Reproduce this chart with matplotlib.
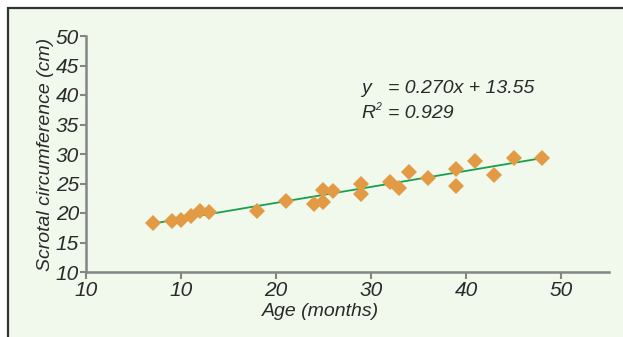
import matplotlib
matplotlib.use("Agg")
import matplotlib.pyplot as plt
from matplotlib.patches import Rectangle

# Data
age = [7, 9, 10, 11, 12, 13, 18, 21, 24, 25, 25, 26, 29, 29,
       32, 33, 34, 36, 39, 39, 41, 43, 45, 48]
circ = [18.3, 18.6, 18.8, 19.5, 20.4, 20.1, 20.3, 22.1, 21.6, 23.9, 21.9, 23.8, 24.9, 23.2,
        25.3, 24.3, 27.0, 26.0, 27.5, 24.6, 28.8, 26.5, 29.4, 29.4]
trend_x = [7, 48]
trend_y = [18.2, 29.3]
xtick_pos = [0, 10, 20, 30, 40, 50]
xtick_labels = ["10", "10", "20", "30", "40", "50"]
ytick_pos = [10, 15, 20, 25, 30, 35, 40, 45, 50]
eq_text = "= 0.270x + 13.55"
r2_text = "= 0.929"

plt.rcParams['font.family'] = ['Liberation Sans', 'DejaVu Sans']

W, H = 623, 337
fig = plt.figure(figsize=(W/100, H/100), dpi=100)
fig.patch.set_facecolor('white')

bg = Rectangle((8/W, -0.05), 1.1, (H-8)/H + 0.05, transform=fig.transFigure,
               facecolor='#F1F8EC', edgecolor='#333333', linewidth=1.6, zorder=-10)
fig.patches.append(bg)

ax = fig.add_axes([86/W, (H-272)/H, (609-86)/W, (272-36)/H])
ax.set_zorder(5)
ax.set_facecolor('none')
ax.set_xlim(0, (609-86)/9.5)
ax.set_ylim(10, 50)

ax.plot(trend_x, trend_y, color='#17A050', lw=1.3, zorder=2)
ax.plot(age, circ, linestyle='none', marker='D', markersize=8.5,
        color='#E39A45', markeredgewidth=0, zorder=3)

for s in ['top', 'right']:
    ax.spines[s].set_visible(False)
for s in ['left', 'bottom']:
    ax.spines[s].set_color('#858585')
    ax.spines[s].set_linewidth(1.8)

ax.set_xticks(xtick_pos)
ax.set_xticklabels(xtick_labels)
ax.set_yticks(ytick_pos)
ax.tick_params(axis='both', colors='#858585', labelcolor='#2a2a2a',
               labelsize=15, width=1.5)
ax.tick_params(axis='x', length=5, pad=1.5)
ax.tick_params(axis='y', length=4, pad=1)
for lab in ax.get_xticklabels() + ax.get_yticklabels():
    lab.set_fontstyle('italic')

ax.set_xlabel('Age (months)', fontsize=14, fontstyle='italic', color='#2a2a2a')
ax.xaxis.set_label_coords((321-86)/(609-86), (272-303)/236)
ax.set_ylabel('Scrotal circumference (cm)', fontsize=14, fontstyle='italic', color='#2a2a2a')
ax.yaxis.set_label_coords((54-86)/(609-86), 0.5)

tc = '#2a2a2a'
fig.text(361/W, 1-93/H, 'y', fontsize=14, fontstyle='italic', color=tc, va='baseline')
fig.text(388/W, 1-93/H, eq_text, fontsize=14, fontstyle='italic', color=tc, va='baseline')
fig.text(361/W, 1-118/H, 'R', fontsize=14, fontstyle='italic', color=tc, va='baseline')
fig.text(375/W, 1-110/H, '2', fontsize=7.5, fontstyle='italic', color=tc, va='baseline')
fig.text(388/W, 1-118/H, r2_text, fontsize=14, fontstyle='italic', color=tc, va='baseline')

fig.savefig('out.png', dpi=100, facecolor=fig.get_facecolor())
